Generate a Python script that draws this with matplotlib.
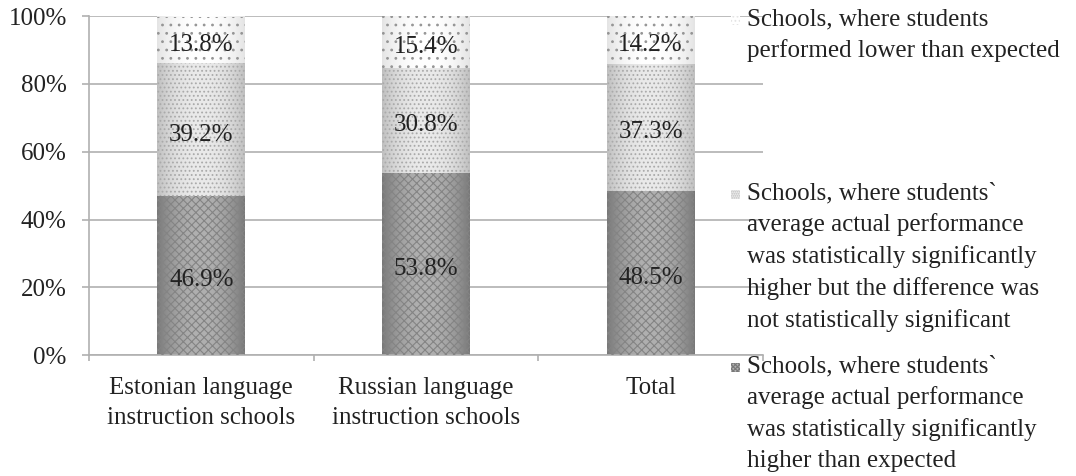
import numpy as np
import matplotlib
matplotlib.use("Agg")
import matplotlib.pyplot as plt
from matplotlib.patches import Rectangle

plt.rcParams['font.family'] = ['Liberation Serif', 'DejaVu Serif']
plt.rcParams['hatch.linewidth'] = 0.8

# data
categories = ["Estonian language\ninstruction schools", "Russian language\ninstruction schools", "Total"]
higher_than_expected = [46.9, 53.8, 48.5]
higher_not_significant = [39.2, 30.8, 37.3]
lower_than_expected = [13.8, 15.4, 14.2]
legend_labels = [
    "Schools, where students\nperformed lower than expected",
    "Schools, where students`\naverage actual performance\nwas statistically significantly\nhigher but the difference was\nnot statistically significant",
    "Schools, where students`\naverage actual performance\nwas statistically significantly\nhigher than expected",
]

# segment styles: (center colour, edge colour, hatch colour, hatch)
styles = [
    ("#b0b0b0", "#787878", "#848484", "xxxx"),
    ("#eaeaea", "#c0c0c0", "#aaaaaa", "...."),
    ("#ffffff", "#e4e4e4", "#959595", ".."),
]

fig = plt.figure(figsize=(10.76, 4.76), dpi=100)
ax = fig.add_axes([0.0827, 0.254, 0.6263, 0.712])

x = np.arange(len(categories))
width = 0.39
series = [higher_than_expected, higher_not_significant, lower_than_expected]

def gradient_img(c_mid, c_edge):
    mid = np.array(matplotlib.colors.to_rgb(c_mid))
    edge = np.array(matplotlib.colors.to_rgb(c_edge))
    t = np.linspace(-1, 1, 200)
    w = np.abs(t) ** 2.2
    row = mid[None, :] * (1 - w[:, None]) + edge[None, :] * w[:, None]
    return row[None, :, :]

bottom = np.zeros(len(categories))
for vals, (cm, ce, ch, hatch) in zip(series, styles):
    bars = ax.bar(x, vals, width, bottom=bottom, color="none", linewidth=0, zorder=2)
    img = gradient_img(cm, ce)
    for b in bars:
        x0, y0 = b.get_x(), b.get_y()
        ax.imshow(img, extent=(x0, x0 + b.get_width(), y0, y0 + b.get_height()),
                  aspect="auto", zorder=2, interpolation="bilinear")
    ax.bar(x, vals, width, bottom=bottom, color="none", edgecolor=ch, hatch=hatch,
           linewidth=0, zorder=3)
    for xi, v, b0 in zip(x, vals, bottom):
        ax.annotate(f"{v:.1f}%", (xi, b0 + v / 2), xytext=(0, -3.5), textcoords="offset points",
                    ha="center", va="center", fontsize=18, color="#222222", zorder=4)
    bottom += np.array(vals)

ax.set_xlim(-0.5, len(categories) - 0.5)
ax.set_ylim(0, 100)
ax.set_yticks(np.arange(0, 101, 20))
ax.set_yticklabels([f"{v}%" for v in range(0, 101, 20)])
ax.yaxis.grid(True, color="#b0b0b0", linewidth=1.2, zorder=0)
ax.set_axisbelow(True)
ax.set_xticks(x)
ax.set_xticklabels(categories)
ax.set_xticks(np.arange(-0.5, len(categories), 1), minor=True)
ax.tick_params(axis="x", which="major", length=0, pad=16, labelsize=18, colors="#222222")
ax.tick_params(axis="x", which="minor", length=4.5, color="#b0b0b0", width=1.2)
ax.tick_params(axis="y", length=5, color="#b0b0b0", width=1.2, pad=11, labelsize=18, labelcolor="#222222")
for s in ["top", "right"]:
    ax.spines[s].set_visible(False)
for s in ["left", "bottom"]:
    ax.spines[s].set_color("#b0b0b0")
    ax.spines[s].set_linewidth(1.2)
for lab in ax.get_xticklabels():
    lab.set_linespacing(1.45)

# legend drawn by hand
legend_y = [0.983, 0.617, 0.254]
for lab, ypos, (cm, ce, ch, hatch) in zip(legend_labels, legend_y, styles[::-1]):
    fig.patches.append(Rectangle((0.679, ypos - 0.036), 0.0085, 0.019, transform=fig.transFigure,
                                 facecolor=cm, edgecolor=ce, hatch=hatch * 2, linewidth=0))
    fig.text(0.694, ypos, lab, ha="left", va="top", fontsize=18, color="#222222",
             linespacing=1.5)

fig.savefig("out.png", dpi=100)
